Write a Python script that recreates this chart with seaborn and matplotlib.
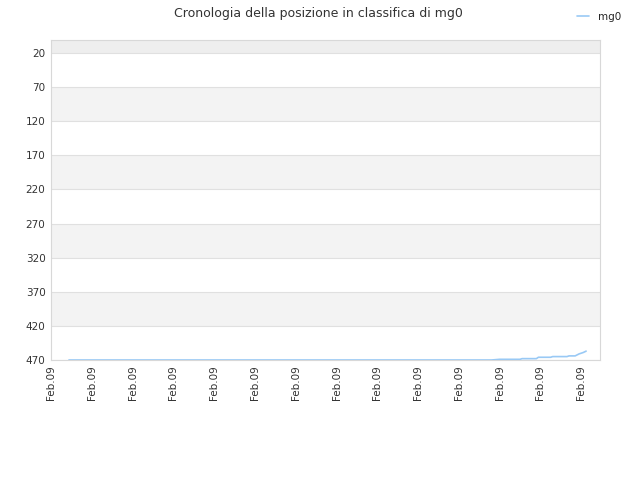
import matplotlib
matplotlib.use("Agg")
import matplotlib.pyplot as plt
import seaborn as sns
import pandas as pd

# position over time (hours from the first tick), rank 1 = top
ore = [0.44, 10.8, 11.0, 11.5, 11.55, 11.9, 11.95, 12.25, 12.3, 12.65, 12.7, 12.85, 12.95, 13.05, 13.12]
posizione = [470, 470, 469, 469, 468, 468, 466, 466, 465, 465, 464, 464, 461, 459, 457]
etichette_x = ["Feb.09"] * 14
tick_y = [20, 70, 120, 170, 220, 270, 320, 370, 420, 470]

df = pd.DataFrame({"ora": ore, "posizione": posizione, "nome": "mg0"})

sns.set_style("white")
plt.rcParams["font.family"] = ["DejaVu Sans"]

fig = plt.figure(figsize=(6.4, 4.8), dpi=100)
ax = fig.add_axes([0.0797, 0.25, 0.8578, 0.6667])

# alternating bands between the grid lines
limiti = [1] + tick_y
for i in range(len(limiti) - 1):
    if i % 2 == 0:
        colore = "#eeeeee" if i == 0 else "#f3f3f3"
        ax.axhspan(limiti[i], limiti[i + 1], color=colore, zorder=0, lw=0)

sns.lineplot(data=df, x="ora", y="posizione", hue="nome", palette=["#99c9f5"],
             linewidth=1.2, ax=ax, legend=False, zorder=3)

ax.set_ylim(470, 1)
ax.set_xlim(0, 13.46)
ax.set_yticks(tick_y)
ax.set_xticks(range(len(etichette_x)))
ax.set_xticklabels(etichette_x, rotation=90)
ax.tick_params(axis="both", labelsize=7.5, colors="#333333", length=0, pad=4)
for y in tick_y:
    ax.axhline(y, color="#e0e0e0", lw=0.8, zorder=1)
for s in ax.spines.values():
    s.set_color("#d8d8d8")
    s.set_linewidth(0.8)
ax.set_xlabel("")
ax.set_ylabel("")

fig.suptitle("Cronologia della posizione in classifica di mg0", x=0.497, y=0.985,
             fontsize=9, color="#333333")

from matplotlib.lines import Line2D
fig.legend(handles=[Line2D([], [], color="#99c9f5", lw=1.2)], labels=["mg0"],
           loc="upper right", bbox_to_anchor=(0.985, 0.995), frameon=False,
           fontsize=7.5, handlelength=1.2)

fig.savefig("out.png", dpi=100)
